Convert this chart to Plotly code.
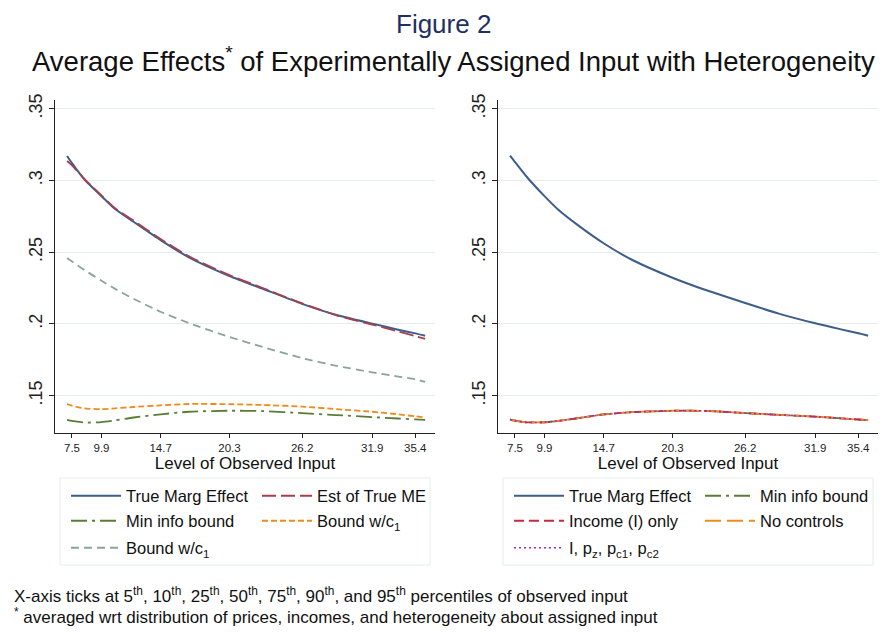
import plotly.graph_objects as go

# ---------------- data ----------------
observed_input = [7.1, 7.5, 8.5, 9.9, 11.0, 12.5, 14.7, 17.0, 20.3, 23.0, 26.2, 29.0, 31.9, 34.0, 35.4, 36.2]

# left panel
true_marg_effect = [0.3170, 0.3120, 0.3008, 0.2890, 0.2800, 0.2712, 0.2584, 0.2464, 0.2334, 0.2245, 0.2140, 0.2062, 0.2002, 0.1960, 0.1934, 0.1917]
est_true_me      = [0.3135, 0.3105, 0.3010, 0.2895, 0.2806, 0.2720, 0.2592, 0.2471, 0.2340, 0.2250, 0.2143, 0.2060, 0.1995, 0.1948, 0.1915, 0.1895]
min_info_bound   = [0.1332, 0.1324, 0.1313, 0.1316, 0.1328, 0.1348, 0.1370, 0.1388, 0.1395, 0.1393, 0.1378, 0.1365, 0.1351, 0.1341, 0.1335, 0.1332]
bound_c1_orange  = [0.1442, 0.1430, 0.1412, 0.1406, 0.1412, 0.1421, 0.1433, 0.1442, 0.1441, 0.1435, 0.1424, 0.1406, 0.1388, 0.1370, 0.1356, 0.1349]
bound_c1_teal    = [0.2459, 0.2435, 0.2376, 0.2301, 0.2244, 0.2175, 0.2085, 0.2006, 0.1909, 0.1839, 0.1762, 0.1708, 0.1663, 0.1633, 0.1614, 0.1597]

# right panel
true_marg_effect_r = [0.3173, 0.3128, 0.3020, 0.2890, 0.2797, 0.2695, 0.2562, 0.2447, 0.2322, 0.2236, 0.2146, 0.2070, 0.2004, 0.1962, 0.1935, 0.1918]
min_info_bound_r   = [0.1334, 0.1326, 0.1314, 0.1315, 0.1324, 0.1342, 0.1369, 0.1385, 0.1395, 0.1394, 0.1379, 0.1366, 0.1354, 0.1342, 0.1334, 0.1330]
income_only        = [0.1334, 0.1326, 0.1314, 0.1315, 0.1324, 0.1342, 0.1369, 0.1385, 0.1395, 0.1394, 0.1379, 0.1366, 0.1354, 0.1342, 0.1334, 0.1330]
no_controls        = [0.1334, 0.1326, 0.1314, 0.1315, 0.1324, 0.1342, 0.1369, 0.1385, 0.1395, 0.1394, 0.1379, 0.1366, 0.1354, 0.1342, 0.1334, 0.1330]
all_controls       = [0.1334, 0.1326, 0.1314, 0.1315, 0.1324, 0.1342, 0.1369, 0.1385, 0.1395, 0.1394, 0.1379, 0.1366, 0.1354, 0.1342, 0.1334, 0.1330]

x_ticks = [7.5, 9.9, 14.7, 20.3, 26.2, 31.9, 35.4]
x_tick_labels = ["7.5", "9.9", "14.7", "20.3", "26.2", "31.9", "35.4"]
y_ticks = [0.15, 0.2, 0.25, 0.3, 0.35]
y_tick_labels = [".15", ".2", ".25", ".3", ".35"]

# ---------------- styling ----------------
FONT = "Liberation Sans, Arial, Helvetica, sans-serif"
NAVY = "#3d5d8a"
MAROON = "#a8404c"
GREEN = "#5a7d35"
ORANGE = "#f08a1a"
TEAL = "#8aa49a"
RED = "#c8283c"
PURPLE = "#a030b0"
GRID = "#e3edf0"

# page body has an 8px margin: figure is sized to fit the window
OFF = 8
W, H = 886 - OFF, 633 - OFF

def fx(s):
    return (s - OFF) / W

def fy(s):
    return 1 - (s - OFF) / H

fig = go.Figure()

def add(x, y, name, color, dash, xa, ya, legend, rank, width=2.0):
    fig.add_trace(go.Scatter(
        x=x, y=y, name=name, mode="lines",
        line=dict(color=color, dash=dash, width=width, shape="spline", smoothing=0.6),
        xaxis=xa, yaxis=ya, legend=legend, legendrank=rank, hoverinfo="skip"))

# left panel (draw order: back to front)
add(observed_input, bound_c1_teal, "Bound w/c<sub>1</sub>", TEAL, "8px,5px", "x", "y", "legend3", 5, 1.8)
add(observed_input, bound_c1_orange, "Bound w/c<sub>1</sub>", ORANGE, "6px,3px", "x", "y", "legend2", 4, 1.8)
add(observed_input, min_info_bound, "Min info bound", GREEN, "16px,5px,3px,5px", "x", "y", "legend2", 3, 1.8)
add(observed_input, true_marg_effect, "True Marg Effect", NAVY, "solid", "x", "y", "legend", 1, 2.0)
add(observed_input, est_true_me, "Est of True ME", MAROON, "14px,5px", "x", "y", "legend", 2, 1.8)

# right panel
add(observed_input, true_marg_effect_r, "True Marg Effect", NAVY, "solid", "x2", "y2", "legend4", 1, 2.0)
add(observed_input, min_info_bound_r, "Min info bound", GREEN, "16px,5px,3px,5px", "x2", "y2", "legend4", 2, 1.8)
add(observed_input, income_only, "Income (I) only", RED, "10px,5px", "x2", "y2", "legend5", 3, 1.8)
add(observed_input, no_controls, "No controls", ORANGE, "16px,6px", "x2", "y2", "legend5", 4, 1.8)
add(observed_input, all_controls, "I, p<sub>z</sub>, p<sub>c1</sub>, p<sub>c2</sub>", PURPLE, "2px,3px", "x2", "y2", "legend6", 5, 1.6)

xaxis_common = dict(
    range=[6.12, 37.0], tickvals=x_ticks, ticktext=x_tick_labels,
    showline=True, linecolor="#222", linewidth=1.2, ticks="outside", ticklen=4,
    tickcolor="#222", showgrid=False, zeroline=False,
    tickfont=dict(family=FONT, size=11.5, color="#222"),
    title=dict(text="Level of Observed Input", font=dict(family=FONT, size=17, color="#111"), standoff=0),
)
yaxis_common = dict(
    range=[0.124, 0.356], tickvals=y_ticks, ticktext=y_tick_labels, tickangle=-90,
    showline=True, linecolor="#222", linewidth=1.2, ticks="outside", ticklen=5,
    tickcolor="#222", showgrid=True, gridcolor=GRID, gridwidth=1, zeroline=False,
    tickfont=dict(family=FONT, size=18, color="#222"),
)

y_dom = [fy(433), fy(100)]
fig.update_layout(
    width=W, height=H,
    margin=dict(l=0, r=0, t=0, b=0, autoexpand=False),
    paper_bgcolor="white", plot_bgcolor="white",
    font=dict(family=FONT, color="#111"),
    xaxis=dict(domain=[fx(55), fx(435)], anchor="y", **xaxis_common),
    yaxis=dict(domain=y_dom, anchor="x", **yaxis_common),
    xaxis2=dict(domain=[fx(498), fx(878)], anchor="y2", **xaxis_common),
    yaxis2=dict(domain=y_dom, anchor="x2", **yaxis_common),
)

legend_common = dict(
    orientation="h", xanchor="left", yanchor="middle",
    bgcolor="rgba(0,0,0,0)", borderwidth=0,
    font=dict(family=FONT, size=16.5, color="#111"),
    itemwidth=50, entrywidthmode="pixels", entrywidth=126,
)
rows_y = [496, 521, 548]
lx_left, lx_right = 66, 509
fig.update_layout(
    legend=dict(x=fx(lx_left), y=fy(rows_y[0]), **legend_common),
    legend2=dict(x=fx(lx_left), y=fy(rows_y[1]), **legend_common),
    legend3=dict(x=fx(lx_left), y=fy(rows_y[2]), **legend_common),
    legend4=dict(x=fx(lx_right), y=fy(rows_y[0]), **legend_common),
    legend5=dict(x=fx(lx_right), y=fy(rows_y[1]), **legend_common),
    legend6=dict(x=fx(lx_right), y=fy(rows_y[2]), **legend_common),
)

# legend boxes
for x0, x1 in [(60, 430), (503, 873)]:
    fig.add_shape(type="rect", xref="paper", yref="paper",
                  x0=fx(x0), x1=fx(x1), y0=fy(565), y1=fy(478),
                  line=dict(color="#e6ecee", width=1), fillcolor="rgba(0,0,0,0)", layer="below")

# titles and notes
fig.add_annotation(text="Figure 2", xref="paper", yref="paper", x=fx(443), y=1,
                   xanchor="center", yanchor="top", showarrow=False, borderpad=0,
                   font=dict(family=FONT, size=26, color="#1f2f66"))
fig.add_annotation(text="Average Effects<sup>*</sup> of Experimentally Assigned Input with Heterogeneity",
                   xref="paper", yref="paper", x=fx(453), y=fy(60),
                   xanchor="center", yanchor="middle", showarrow=False,
                   font=dict(family=FONT, size=27.5, color="#111"))
fig.add_annotation(text="X-axis ticks at 5<sup>th</sup>, 10<sup>th</sup>, 25<sup>th</sup>, 50<sup>th</sup>, 75<sup>th</sup>, 90<sup>th</sup>, and 95<sup>th</sup> percentiles of observed input",
                   xref="paper", yref="paper", x=fx(12), y=fy(595),
                   xanchor="left", yanchor="middle", showarrow=False,
                   font=dict(family=FONT, size=17, color="#111"))
fig.add_annotation(text="<sup>*</sup> averaged wrt distribution of prices, incomes, and heterogeneity about assigned input",
                   xref="paper", yref="paper", x=fx(12), y=fy(616),
                   xanchor="left", yanchor="middle", showarrow=False,
                   font=dict(family=FONT, size=17, color="#111"))

fig.write_html("out.html")
